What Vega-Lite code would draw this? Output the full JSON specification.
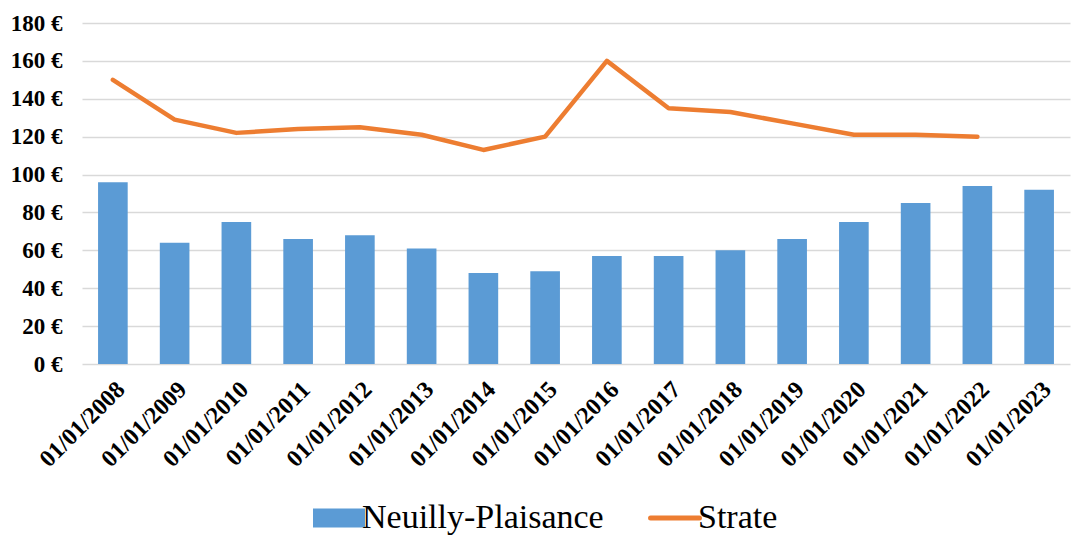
{
  "$schema": "https://vega.github.io/schema/vega-lite/v6.json",
  "autosize": "none",
  "padding": {"left": 82, "top": 23, "right": 15, "bottom": 176},
  "width": 988,
  "height": 341,
  "background": "white",
  "config": {
    "font": "Liberation Serif",
    "view": {"stroke": null}
  },
  "data": {
    "values": [
      {"date": "01/01/2008", "serie": "Neuilly-Plaisance", "value": 96},
      {"date": "01/01/2009", "serie": "Neuilly-Plaisance", "value": 64},
      {"date": "01/01/2010", "serie": "Neuilly-Plaisance", "value": 75},
      {"date": "01/01/2011", "serie": "Neuilly-Plaisance", "value": 66},
      {"date": "01/01/2012", "serie": "Neuilly-Plaisance", "value": 68},
      {"date": "01/01/2013", "serie": "Neuilly-Plaisance", "value": 61},
      {"date": "01/01/2014", "serie": "Neuilly-Plaisance", "value": 48},
      {"date": "01/01/2015", "serie": "Neuilly-Plaisance", "value": 49},
      {"date": "01/01/2016", "serie": "Neuilly-Plaisance", "value": 57},
      {"date": "01/01/2017", "serie": "Neuilly-Plaisance", "value": 57},
      {"date": "01/01/2018", "serie": "Neuilly-Plaisance", "value": 60},
      {"date": "01/01/2019", "serie": "Neuilly-Plaisance", "value": 66},
      {"date": "01/01/2020", "serie": "Neuilly-Plaisance", "value": 75},
      {"date": "01/01/2021", "serie": "Neuilly-Plaisance", "value": 85},
      {"date": "01/01/2022", "serie": "Neuilly-Plaisance", "value": 94},
      {"date": "01/01/2023", "serie": "Neuilly-Plaisance", "value": 92},
      {"date": "01/01/2008", "serie": "Strate", "value": 150},
      {"date": "01/01/2009", "serie": "Strate", "value": 129},
      {"date": "01/01/2010", "serie": "Strate", "value": 122},
      {"date": "01/01/2011", "serie": "Strate", "value": 124},
      {"date": "01/01/2012", "serie": "Strate", "value": 125},
      {"date": "01/01/2013", "serie": "Strate", "value": 121},
      {"date": "01/01/2014", "serie": "Strate", "value": 113},
      {"date": "01/01/2015", "serie": "Strate", "value": 120},
      {"date": "01/01/2016", "serie": "Strate", "value": 160},
      {"date": "01/01/2017", "serie": "Strate", "value": 135},
      {"date": "01/01/2018", "serie": "Strate", "value": 133},
      {"date": "01/01/2019", "serie": "Strate", "value": 127},
      {"date": "01/01/2020", "serie": "Strate", "value": 121},
      {"date": "01/01/2021", "serie": "Strate", "value": 121},
      {"date": "01/01/2022", "serie": "Strate", "value": 120}
    ]
  },
  "encoding": {
    "x": {
      "field": "date",
      "type": "nominal",
      "sort": null,
      "title": null,
      "scale": {"paddingInner": 0.52, "paddingOuter": 0.26},
      "axis": {
        "labelAngle": -45,
        "labelFont": "Liberation Serif",
        "labelFontSize": 24,
        "labelFontWeight": "bold",
        "labelColor": "#000000",
        "labelPadding": 13,
        "labelLimit": 300,
        "ticks": false,
        "domain": false
      }
    },
    "y": {
      "field": "value",
      "type": "quantitative",
      "title": null,
      "scale": {"domain": [0, 180]},
      "axis": {
        "values": [0, 20, 40, 60, 80, 100, 120, 140, 160, 180],
        "labelExpr": "datum.value + ' €'",
        "labelFont": "Liberation Serif",
        "labelFontSize": 23,
        "labelFontWeight": "bold",
        "labelColor": "#000000",
        "labelPadding": 20,
        "ticks": false,
        "domain": false,
        "gridColor": "#d9d9d9",
        "gridWidth": 1.5
      }
    },
    "color": {
      "field": "serie",
      "type": "nominal",
      "scale": {"domain": ["Neuilly-Plaisance", "Strate"], "range": ["#5B9BD5", "#ED7D31"]},
      "legend": {
        "title": null,
        "orient": "none",
        "direction": "horizontal",
        "legendX": 240,
        "legendY": 478,
        "labelFont": "Liberation Serif",
        "labelFontSize": 34,
        "labelColor": "#000000",
        "labelLimit": 400,
        "labelOffset": 6,
        "columnPadding": 36,
        "symbolSize": 2704,
        "encode": {
          "symbols": {
            "update": {
              "shape": {"signal": "datum.value === 'Strate' ? 'M-0.94,0L0.94,0' : 'M-1,-0.365L1,-0.365L1,0.365L-1,0.365Z'"},
              "stroke": {"signal": "datum.value === 'Strate' ? '#ED7D31' : '#5B9BD5'"},
              "fill": {"signal": "datum.value === 'Strate' ? 'transparent' : '#5B9BD5'"},
              "strokeWidth": {"signal": "datum.value === 'Strate' ? 5 : 0"},
              "strokeCap": {"value": "round"},
              "opacity": {"value": 1},
              "fillOpacity": {"value": 1}
            }
          }
        }
      }
    }
  },
  "layer": [
    {
      "transform": [{"filter": "datum.serie === 'Neuilly-Plaisance'"}],
      "mark": {"type": "bar", "opacity": 1}
    },
    {
      "transform": [{"filter": "datum.serie === 'Strate'"}],
      "mark": {"type": "line", "strokeWidth": 4.5, "strokeCap": "round", "strokeJoin": "round"}
    }
  ]
}
